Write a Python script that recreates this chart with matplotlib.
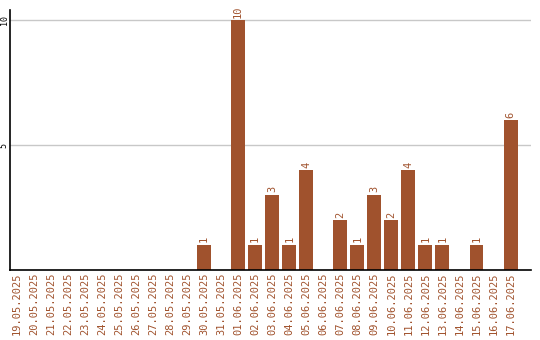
import matplotlib
matplotlib.use("Agg")
import matplotlib.pyplot as plt
import numpy as np

dates = ["19.05.2025", "20.05.2025", "21.05.2025", "22.05.2025", "23.05.2025",
         "24.05.2025", "25.05.2025", "26.05.2025", "27.05.2025", "28.05.2025",
         "29.05.2025", "30.05.2025", "31.05.2025", "01.06.2025", "02.06.2025",
         "03.06.2025", "04.06.2025", "05.06.2025", "06.06.2025", "07.06.2025",
         "08.06.2025", "09.06.2025", "10.06.2025", "11.06.2025", "12.06.2025",
         "13.06.2025", "14.06.2025", "15.06.2025", "16.06.2025", "17.06.2025"]
counts = [0, 0, 0, 0, 0, 0, 0, 0, 0, 0,
          0, 1, 0, 10, 1, 3, 1, 4, 0, 2,
          1, 3, 2, 4, 1, 1, 0, 1, 0, 6]
y_ticks = [5, 10]

color = "#A0522D"
font = "DejaVu Sans Mono"

fig = plt.figure(figsize=(5.4, 3.4), dpi=100)
ax = fig.add_axes([10 / 540, 70 / 340, 521 / 540, 260 / 340])

x = np.arange(len(dates))
ax.bar(x, counts, width=0.82, color=color, zorder=2)

# value labels above the bars
for xi, v in zip(x, counts):
    if v > 0:
        ax.text(xi, v + 0.1, str(v), rotation=90, ha="center", va="bottom",
                color=color, fontsize=7.5, family=font)

ax.set_xlim(-0.4, len(dates) + 0.2)
ax.set_ylim(0, 10.4)
ax.set_yticks(y_ticks)
ax.set_yticklabels([str(t) for t in y_ticks], rotation=90, va="center",
                   fontsize=6, family=font, color="black")
ax.set_xticks(x)
ax.set_xticklabels(dates, rotation=90, fontsize=7.5, family=font, color=color)
ax.tick_params(axis="both", length=0, pad=2)
ax.tick_params(axis="y", pad=1)
ax.grid(axis="y", color="#c8c8c8", linewidth=1, zorder=0)

for side in ["top", "right"]:
    ax.spines[side].set_visible(False)
for side in ["left", "bottom"]:
    ax.spines[side].set_linewidth(1.2)
    ax.spines[side].set_color("black")

plt.savefig("out.png", dpi=100)
